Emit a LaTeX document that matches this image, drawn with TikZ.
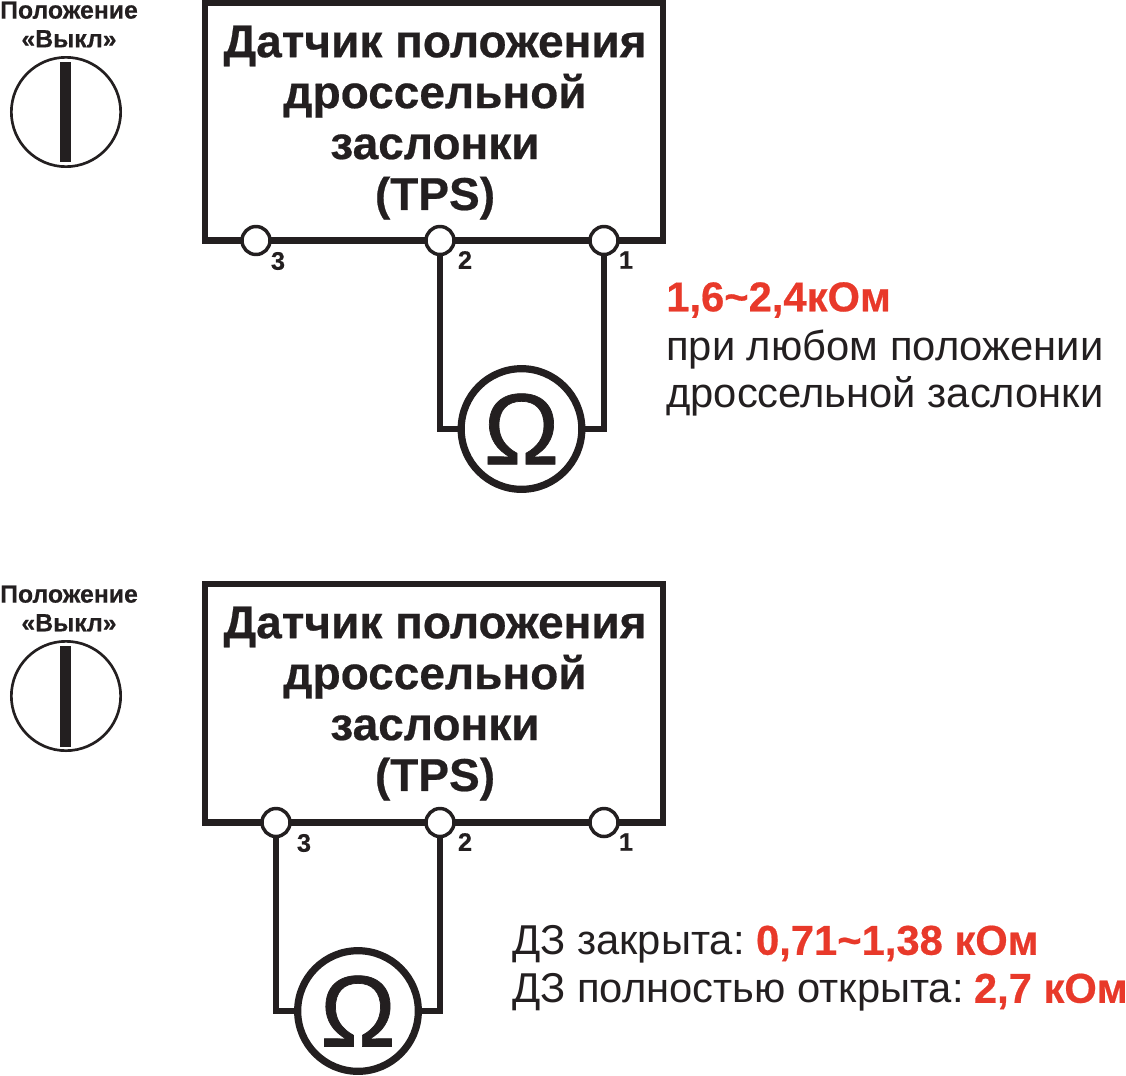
\documentclass[tikz,border=0pt]{standalone}
\usepackage{fontspec}
\setmainfont{Liberation Sans}
\newfontfamily\heavyfont[FakeBold=0.5]{Liberation Sans Bold}
\newfontfamily\omegafont[FakeBold=0.7]{Liberation Sans}
\definecolor{valred}{HTML}{E8392A}
\definecolor{inkgray}{HTML}{231F20}
\tikzset{
  px/.style={x=0.75pt,y=-0.75pt},
  frame/.style={draw=inkgray,line width=4.6pt,line cap=butt,line join=miter},
  wire/.style={draw=inkgray,line width=3.9pt,line cap=butt,line join=miter},
  pin/.style={circle,draw=inkgray,fill=white,line width=2.6pt,minimum size=21pt,inner sep=0pt},
  pinlabel/.style={text=inkgray,font=\fontsize{19}{19}\heavyfont,inner sep=0pt},
  titletext/.style={text=inkgray,font=\fontsize{34.5}{38.2}\heavyfont,align=center,inner sep=0pt},
  bodytext/.style={text=inkgray,font=\fontsize{31.3}{35.2}\selectfont,align=left,inner sep=0pt,anchor=west},
  meter/.style={circle,draw=inkgray,fill=white,line width=5.4pt,minimum size=90.5pt,inner sep=0pt,text=inkgray,font=\fontsize{76}{76}\omegafont},
  knob/.style={circle,draw=inkgray,line width=2pt,minimum size=82pt,inner sep=0pt},
  knobbar/.style={draw=inkgray,line width=8.2pt},
  smalltext/.style={text=inkgray,font=\fontsize{18.6}{21.5}\heavyfont,align=center,inner sep=0pt},
}
\newcommand{\redtext}[1]{\hspace{-3pt}\textcolor{valred}{\heavyfont #1}}
\begin{document}
\begin{tikzpicture}[px]
  \useasboundingbox (0,0) rectangle (1126,1075);

  % upper sensor
  \node[smalltext] (pos1) at (69,24.5) {Положение\\«Выкл»};
  \node[knob] (knob1) at (66,112) {};
  \coordinate (knob1t) at (65.5,62);
  \coordinate (knob1b) at (65.5,162);
  \draw[knobbar] (knob1t) -- (knob1b);
  \node[titletext] (title1) at (435,122.5) {Датчик положения\\дроссельной\\заслонки\\(TPS)};
  \coordinate (box1a) at (205,240.5);
  \coordinate (box1b) at (205,3);
  \coordinate (box1c) at (663,3);
  \coordinate (box1d) at (663,240.5);
  \draw[frame] (box1a) -- (box1b) -- (box1c) -- (box1d) -- cycle;
  \node[pin] (p13) at (256,240.5) {};
  \node[pin] (p12) at (440,240.5) {};
  \node[pin] (p11) at (604,240.5) {};
  \node[pinlabel] at (278,261) {3};
  \node[pinlabel] at (465,260) {2};
  \node[pinlabel] at (626,260) {1};
  \node[meter] (m1) at (521.5,429) {Ω};
  \draw[wire] (p12) |- (m1);
  \draw[wire] (p11) |- (m1);
  \node[bodytext,text=valred,font=\fontsize{31.3}{35.2}\heavyfont] (val1) at (666,300) {1,6\textasciitilde2,4кОм};
  \node[bodytext] (note1) at (666,373) {при любом положении\\дроссельной заслонки};

  % lower sensor
  \node[smalltext] (pos2) at (69,608.5) {Положение\\«Выкл»};
  \node[knob] (knob2) at (66,696) {};
  \coordinate (knob2t) at (65.5,646);
  \coordinate (knob2b) at (65.5,747);
  \draw[knobbar] (knob2t) -- (knob2b);
  \node[titletext] (title2) at (435,703.5) {Датчик положения\\дроссельной\\заслонки\\(TPS)};
  \coordinate (box2a) at (205,822.5);
  \coordinate (box2b) at (205,584);
  \coordinate (box2c) at (663,584);
  \coordinate (box2d) at (663,822.5);
  \draw[frame] (box2a) -- (box2b) -- (box2c) -- (box2d) -- cycle;
  \node[pin] (p23) at (276,822.5) {};
  \node[pin] (p22) at (440,822.5) {};
  \node[pin] (p21) at (604,822.5) {};
  \node[pinlabel] at (304,843) {3};
  \node[pinlabel] at (465,842) {2};
  \node[pinlabel] at (626,842) {1};
  \node[meter] (m2) at (358,1011) {Ω};
  \draw[wire] (p23) |- (m2);
  \draw[wire] (p22) |- (m2);
  \node[bodytext] (note2) at (512,944.5) {ДЗ закрыта: \redtext{0,71\textasciitilde1,38 кОм}};
  \node[bodytext] (note3) at (512,992.5) {ДЗ полностью открыта: \hspace{-1pt}\redtext{2,7 кОм}};
\end{tikzpicture}
\end{document}
